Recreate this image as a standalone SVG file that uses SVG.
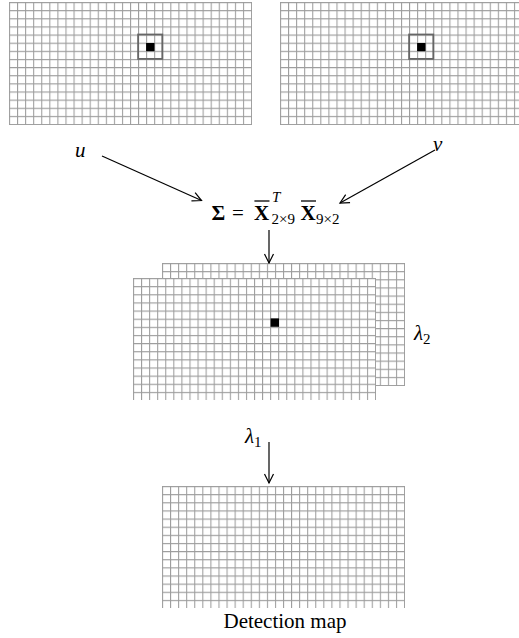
<svg xmlns="http://www.w3.org/2000/svg" width="519" height="638" viewBox="0 0 519 638">
<style>
.t{font-family:"Liberation Serif","DejaVu Serif",serif;fill:#000}
.it{font-style:italic}
.b{font-weight:bold}
.ln{stroke:#000;stroke-width:1.2;fill:none}
.bx{fill:none;stroke:#666;stroke-width:1.8}
</style>
<defs>
<pattern id="g" width="8.0667" height="8.1333" patternUnits="userSpaceOnUse">
<path d="M0,0.5 H9 M0.5,0 V9" stroke="#9c9c9c" stroke-width="1.1" fill="none"/>
</pattern>
<marker id="ah" markerWidth="12" markerHeight="12" refX="10" refY="6" orient="auto" markerUnits="userSpaceOnUse">
<path d="M1,1.5 L10,6 L1,10.5" fill="none" stroke="#000" stroke-width="1.2"/>
</marker>
</defs>

<g id="grid-u" transform="translate(9,2)">
<rect width="243" height="123" fill="#fff"/>
<rect width="243" height="123" fill="url(#g)"/>
<rect x="129.1" y="32.5" width="24.2" height="24.4" class="bx"/>
<rect x="137.1" y="41" width="8.4" height="8.2" fill="#000"/>
</g>

<g id="grid-v" transform="translate(280,2)">
<rect width="243" height="123" fill="#fff"/>
<rect width="243" height="123" fill="url(#g)"/>
<rect x="129.1" y="32.5" width="24.2" height="24.4" class="bx"/>
<rect x="137.1" y="41" width="8.4" height="8.2" fill="#000"/>
</g>

<g id="grid-lambda2" transform="translate(162,263)">
<rect width="243" height="123" fill="#fff"/>
<rect width="243" height="123" fill="url(#g)"/>
</g>

<g id="grid-lambda1" transform="translate(133,278)">
<rect width="243" height="122" fill="#fff"/>
<rect width="243" height="122" fill="url(#g)"/>
<rect x="137.6" y="40.4" width="8.4" height="8.4" fill="#000"/>
</g>

<g id="grid-detection" transform="translate(162,486)">
<rect width="243" height="122" fill="#fff"/>
<rect width="243" height="122" fill="url(#g)"/>
</g>

<g id="labels">
<text class="t it" x="75" y="157" font-size="21">u</text>
<text class="t it" x="433" y="151" font-size="21">v</text>
<text class="t it" x="414" y="340" font-size="21">λ<tspan font-style="normal" font-size="15" dy="4">2</tspan></text>
<text class="t it" x="245" y="443" font-size="21">λ<tspan font-style="normal" font-size="15" dy="4">1</tspan></text>
<text class="t" x="285" y="628" font-size="21" text-anchor="middle">Detection map</text>
</g>

<g id="formula">
<text class="t b" x="211.5" y="219.5" font-size="21">Σ</text>
<text class="t" x="232" y="219.5" font-size="21">=</text>
<text class="t b" x="254" y="219.5" font-size="21">X</text>
<line x1="254.5" y1="201" x2="269.5" y2="201" stroke="#000" stroke-width="1.3"/>
<text class="t it" x="272" y="201.5" font-size="15">T</text>
<text class="t" x="271.5" y="223.5" font-size="15">2×9</text>
<text class="t b" x="300.5" y="219.5" font-size="21">X</text>
<line x1="301" y1="201" x2="316" y2="201" stroke="#000" stroke-width="1.3"/>
<text class="t" x="316" y="223.5" font-size="15">9×2</text>
</g>

<g id="connectors">
<line class="ln" x1="102" y1="156" x2="201.5" y2="200.5" marker-end="url(#ah)"/>
<line class="ln" x1="435" y1="150" x2="340" y2="203" marker-end="url(#ah)"/>
<line class="ln" x1="269" y1="230" x2="269" y2="263" marker-end="url(#ah)"/>
<line class="ln" x1="269" y1="442" x2="269" y2="483" marker-end="url(#ah)"/>
</g>
</svg>
